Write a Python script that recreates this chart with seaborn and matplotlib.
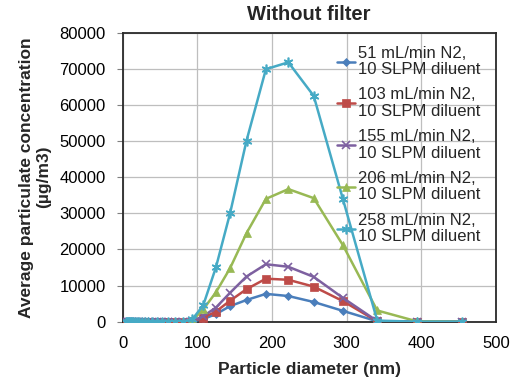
import matplotlib
matplotlib.use("Agg")
import matplotlib.pyplot as plt
import seaborn as sns
import pandas as pd
import numpy as np

# Particle diameter bins (nm)
diameters = [5.3, 6.1, 7.1, 8.2, 9.4, 10.9, 12.6, 14.5, 16.8, 19.3, 22.3, 25.8,
             29.7, 34.3, 39.6, 45.7, 52.8, 60.9, 70.3, 81.1, 93.6, 108, 125, 144,
             166, 192, 222, 256, 295, 341, 394, 455]
n_zero = 20  # bins below ~90 nm with ~0 concentration
zeros = [0] * n_zero

s51 = zeros + [100, 700, 2100, 4300, 6000, 7700, 7100, 5450, 3000, 100, 0, 0]
s103 = zeros + [150, 1100, 2800, 5800, 9000, 11900, 11600, 9700, 5700, 100, 0, 0]
s155 = zeros + [200, 1500, 3900, 8000, 12500, 15900, 15200, 12400, 6600, 150, 0, 0]
s206 = zeros + [400, 3400, 8100, 14800, 24500, 34000, 36700, 34200, 21200, 3100, 100, 0]
s258 = zeros + [700, 4500, 15000, 30000, 50100, 69900, 71800, 62500, 34000, 300, 0, 0]

labels = ["51 mL/min N2,\n10 SLPM diluent",
          "103 mL/min N2,\n10 SLPM diluent",
          "155 mL/min N2,\n10 SLPM diluent",
          "206 mL/min N2,\n10 SLPM diluent",
          "258 mL/min N2,\n10 SLPM diluent"]
series = [s51, s103, s155, s206, s258]
colors = ["#4A7EBB", "#BE4B48", "#7D60A0", "#98B954", "#46AAC5"]
markers = ["D", "s", "x", "^", (6, 2, 0)]
msizes = [4, 6, 6, 6, 7]

frames = []
for lab, vals in zip(labels, series):
    frames.append(pd.DataFrame({"d": diameters, "c": vals, "series": lab}))
df = pd.concat(frames, ignore_index=True)

sns.set_style("white")
plt.rcParams['font.family'] = ['Liberation Sans', 'DejaVu Sans']

fig = plt.figure(figsize=(5.18, 3.78), dpi=100)
ax = fig.add_axes([0.2365, 0.149, 0.7210, 0.7645])

for lab, col, mk, ms in zip(labels, colors, markers, msizes):
    sub = df[df["series"] == lab]
    sns.lineplot(data=sub, x="d", y="c", ax=ax, color=col, marker=mk,
                 markersize=ms, linewidth=1.8, label=lab,
                 markeredgecolor=col, markeredgewidth=1.2 if mk in ("x", (6, 2, 0)) else 0.5,
                 zorder=3)

ax.set_xlim(0, 500)
ax.set_ylim(0, 80000)
ax.set_xticks(range(0, 501, 100))
ax.set_yticks(range(0, 80001, 10000))
ax.grid(True, color="#BEBEBE", linewidth=0.9)
ax.set_axisbelow(True)
for sp in ax.spines.values():
    sp.set_color("#2A2A2A")
    sp.set_linewidth(1.3)
ax.tick_params(axis="both", labelsize=12, colors="#000000", length=4,
               direction="out", left=True, bottom=False)
ax.tick_params(axis="y", color="#7F7F7F", pad=8)
ax.tick_params(axis="x", pad=6)

ax.set_xlabel("Particle diameter (nm)", fontsize=12.5, fontweight="bold", labelpad=8)
ax.set_ylabel("Average particulate concentration\n(µg/m3)", fontsize=12.5,
              fontweight="bold", labelpad=6, linespacing=1.2)
ax.set_title("Without filter", fontsize=14.5, fontweight="bold", pad=9)

leg = ax.legend(loc="upper left", bbox_to_anchor=(0.574, 0.955), frameon=False,
                fontsize=12, handlelength=1.1, handletextpad=0.15,
                labelspacing=0.62, borderpad=0, borderaxespad=0)
for t in leg.get_texts():
    t.set_linespacing(1.12)

fig.savefig("out.png", dpi=100)
